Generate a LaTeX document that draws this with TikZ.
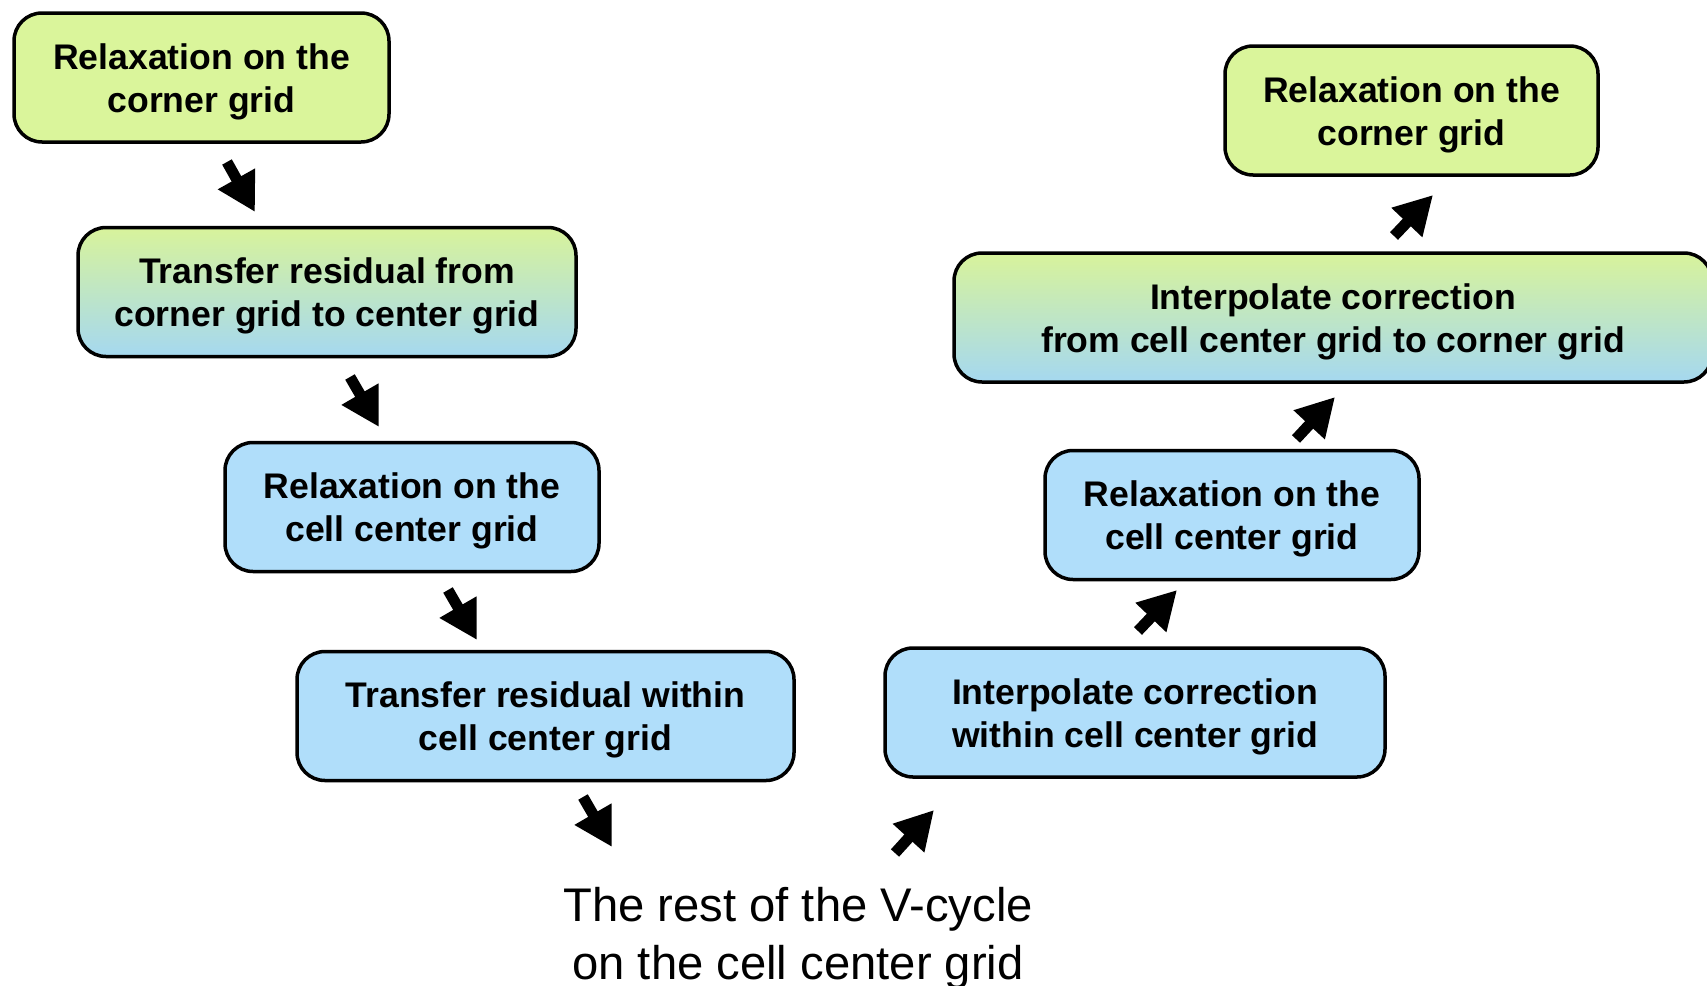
\documentclass[tikz,border=0pt]{standalone}
\usepackage{fontspec}
\setmainfont{Liberation Sans}
\usetikzlibrary{arrows.meta}
\definecolor{limeg}{RGB}{218,245,155}
\definecolor{skyb}{RGB}{176,222,250}
\definecolor{gradtop}{RGB}{216,243,155}
\definecolor{gradbot}{RGB}{165,216,240}
\newcommand{\myupstrut}{\rule{0pt}{34pt}}
\begin{document}
\begin{tikzpicture}[x=1pt,y=-1pt,
  stepbox/.style={draw=black, line width=3.5pt, rounded corners=28pt, minimum height=129pt, align=center, font=\fontsize{35.6}{43}\selectfont\bfseries, inner sep=0pt},
  greenbox/.style={stepbox, fill=limeg},
  bluebox/.style={stepbox, fill=skyb},
  gradbox/.style={stepbox, top color=gradtop, bottom color=gradbot},
  arr/.style={-{Triangle[width=40pt,length=38pt]}, line width=11pt}
]
\useasboundingbox (0,0) rectangle (1707,985);
\clip (0,0) rectangle (1707,985);
\fill[white] (0,0) rectangle (1707,985);

\node[greenbox, minimum width=375pt] (b1) at (201.5,77.5) {\myupstrut Relaxation on the\\corner grid};
\node[gradbox, minimum width=498pt] (b2) at (327,292) {\myupstrut Transfer residual from\\corner grid to center grid};
\node[bluebox, minimum width=374pt] (b3) at (412,507) {\myupstrut Relaxation on the\\cell center grid};
\node[bluebox, minimum width=497pt] (b4) at (545.5,716) {\myupstrut Transfer residual within\\cell center grid};
\node[bluebox, minimum width=500pt] (b5) at (1135,712.5) {\myupstrut Interpolate correction\\within cell center grid};
\node[bluebox, minimum width=374pt] (b6) at (1232,515) {\myupstrut Relaxation on the\\cell center grid};
\node[gradbox, minimum width=758pt] (b7) at (1333,317.5) {\myupstrut Interpolate correction\\from cell center grid to corner grid};
\node[greenbox, minimum width=373pt] (b8) at (1411.5,110.5) {\myupstrut Relaxation on the\\corner grid};
\node[align=center, inner sep=0pt, font=\fontsize{47.2}{58}\selectfont] (rest) at (798,938) {The rest of the V-cycle\\on the cell center grid};

\coordinate (a1s) at (227,162); \coordinate (a1e) at (255,212);
\coordinate (a2s) at (350,377); \coordinate (a2e) at (379,427);
\coordinate (a3s) at (448,590); \coordinate (a3e) at (477,640);
\coordinate (a4s) at (583,797); \coordinate (a4e) at (612,847);
\coordinate (a5s) at (895,853); \coordinate (a5e) at (934,810);
\coordinate (a6s) at (1138,631); \coordinate (a6e) at (1177,590);
\coordinate (a7s) at (1296,439); \coordinate (a7e) at (1335,397);
\coordinate (a8s) at (1394,236); \coordinate (a8e) at (1433,195);

\foreach \i in {1,...,8} \draw[arr] (a\i s) -- (a\i e);
\end{tikzpicture}
\end{document}
